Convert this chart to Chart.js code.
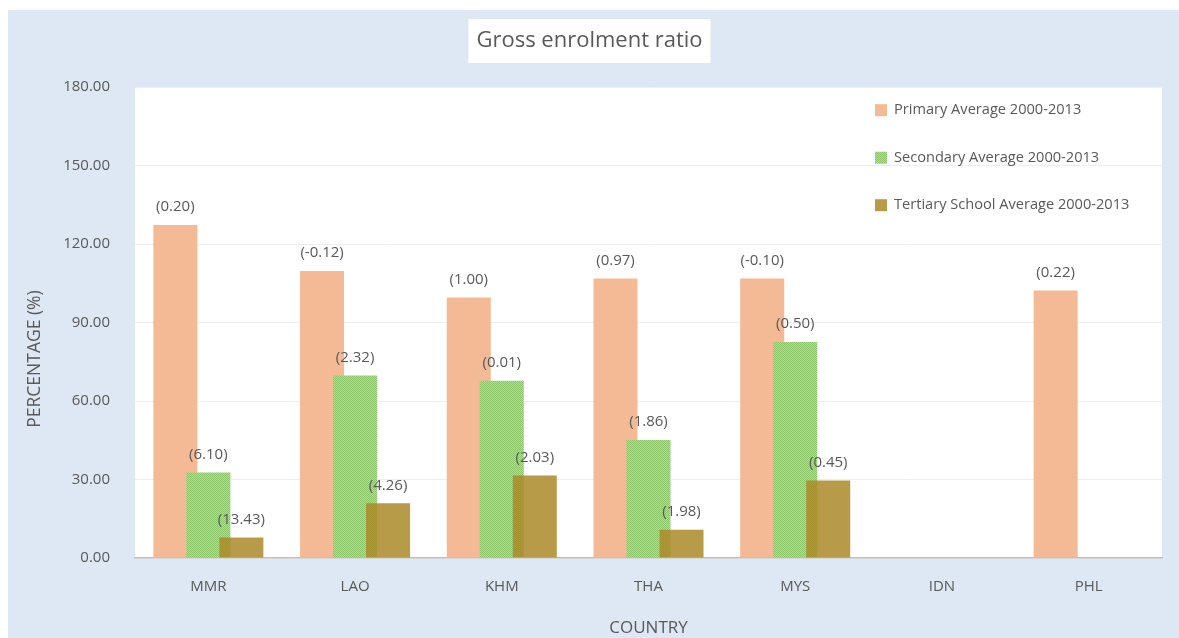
<!DOCTYPE html>
<html>
<head>
<meta charset="utf-8">
<script src="https://cdn.jsdelivr.net/npm/chart.js@4"></script>
<style>
  html, body { margin: 0; padding: 0; background: #ffffff; }
  canvas { display: block; }
</style>
</head>
<body>
<canvas id="enrolChart" width="1179" height="638"></canvas>
<script>
// donnees
var countries = ['MMR', 'LAO', 'KHM', 'THA', 'MYS', 'IDN', 'PHL'];
var primary = [127.3, 109.7, 99.6, 106.9, 106.9, null, 102.3];
var secondary = [32.7, 69.8, 67.8, 45.1, 82.6, null, null];
var tertiary = [7.8, 20.9, 31.5, 10.8, 29.6, null, null];
// taux de croissance affiches entre parentheses
var primaryGrowth = [0.20, -0.12, 1.00, 0.97, -0.10, null, 0.22];
var secondaryGrowth = [6.10, 2.32, 0.01, 1.86, 0.50, null, null];
var tertiaryGrowth = [13.43, 4.26, 2.03, 1.98, 0.45, null, null];
var yTicks = [0, 30, 60, 90, 120, 150, 180];

var textColor = '#595959';
var fontFamily = "'Open Sans', 'Noto Sans', sans-serif";

// motif quadrille pour la serie secondaire
function makePattern() {
    var c = document.createElement('canvas');
    c.width = 4; c.height = 4;
    var p = c.getContext('2d');
    p.fillStyle = '#b2dc98';
    p.fillRect(0, 0, 4, 4);
    p.fillStyle = '#8bc469';
    for (var i = 0; i < 4; i++) {
        for (var j = 0; j < 4; j++) {
            if ((i + j) % 2 === 0) p.fillRect(i, j, 1, 1);
        }
    }
    return p.createPattern(c, 'repeat');
}

var ctx = document.getElementById('enrolChart').getContext('2d');
var greenPattern = makePattern();

var backgroundPlugin = {
    id: 'backgroundPlugin',
    beforeDraw: function(chart) {
        var c = chart.ctx;
        var a = chart.chartArea;
        var t = chart.titleBlock;
        c.save();
        c.fillStyle = '#ffffff';
        c.fillRect(0, 0, chart.width, chart.height);
        c.fillStyle = '#dde8f4';
        c.fillRect(8, 10, chart.width - 8, chart.height - 10);
        c.fillStyle = '#ffffff';
        c.fillRect(a.left, a.top, a.right - a.left, a.bottom - a.top);
        // cadre blanc du titre
        c.font = '22px ' + fontFamily;
        var w = c.measureText(chart.options.plugins.title.text).width;
        var cx = (t.left + t.right) / 2;
        c.fillRect(cx - w / 2 - 8, 19, w + 16, 44);
        c.restore();
    }
};

// on dessine les series dans l'ordre : la barre de droite passe par-dessus
var orderPlugin = {
    id: 'orderPlugin',
    beforeDatasetsDraw: function(chart) {
        for (var i = 0; i < chart.data.datasets.length; i++) {
            var meta = chart.getDatasetMeta(i);
            if (meta.visible) meta.controller.draw();
        }
        return false;
    }
};

var labelsPlugin = {
    id: 'labelsPlugin',
    afterDraw: function(chart) {
        var growth = [primaryGrowth, secondaryGrowth, tertiaryGrowth];
        var c = chart.ctx;
        var a = chart.chartArea;
        c.save();
        c.font = '15px ' + fontFamily;
        c.fillStyle = textColor;
        c.textAlign = 'center';
        c.textBaseline = 'middle';
        chart.data.datasets.forEach(function(ds, i) {
            var meta = chart.getDatasetMeta(i);
            meta.data.forEach(function(bar, j) {
                var g = growth[i][j];
                if (g === null || ds.data[j] === null) return;
                c.fillText('(' + g.toFixed(2) + ')', bar.x, bar.y - 18);
            });
        });

        // legende dans la zone du graphique
        c.font = '14.6px ' + fontFamily;
        c.textAlign = 'left';
        chart.data.datasets.forEach(function(ds, i) {
            var y = a.top + 23 + i * 47.5;
            var x = a.right - 287;
            c.fillStyle = ds.legendColor;
            c.fillRect(x, y - 6, 12, 12);
            c.fillStyle = textColor;
            c.fillText(ds.label, x + 19, y);
        });

        // titre de l'axe vertical
        c.font = '17.5px ' + fontFamily;
        c.translate(35, 359);
        c.rotate(-Math.PI / 2);
        c.textAlign = 'center';
        c.fillText('PERCENTAGE (%)', 0, 0);
        c.restore();
    }
};

var enrolChart = new Chart(ctx, {
    type: 'bar',
    data: {
        labels: countries,
        datasets: [{
            label: 'Primary Average 2000-2013',
            data: primary,
            backgroundColor: '#f4ba95',
            legendColor: '#f4ba95'
        }, {
            label: 'Secondary Average 2000-2013',
            data: secondary,
            backgroundColor: greenPattern,
            legendColor: greenPattern
        }, {
            label: 'Tertiary School Average 2000-2013',
            data: tertiary,
            backgroundColor: 'rgba(170, 138, 40, 0.85)',
            legendColor: 'rgba(170, 138, 40, 0.85)'
        }]
    },
    options: {
        responsive: false,
        animation: false,
        categoryPercentage: 0.675,
        barPercentage: 1.333,
        layout: {
            padding: { left: 17, right: 17, top: 0, bottom: 0 }
        },
        plugins: {
            legend: { display: false },
            tooltip: { enabled: false },
            title: {
                display: true,
                text: 'Gross enrolment ratio',
                color: textColor,
                font: { size: 22, family: fontFamily, weight: 'normal', lineHeight: 1.2 },
                padding: { top: 27.8, bottom: 33 }
            }
        },
        scales: {
            y: {
                min: 0,
                max: 180,
                afterBuildTicks: function(scale) {
                    scale.ticks = yTicks.map(function(v) { return { value: v }; });
                },
                afterFit: function(scale) { scale.width = 118; },
                grid: { color: '#eeeeee', drawTicks: false },
                border: { display: false },
                ticks: {
                    padding: 25,
                    color: textColor,
                    font: { size: 15, family: fontFamily },
                    callback: function(v) { return Number(v).toFixed(2); }
                }
            },
            x: {
                afterFit: function(scale) { scale.height = 80; },
                grid: { display: false, drawTicks: false },
                border: { display: true, color: '#bfbfbf', width: 1.5 },
                ticks: {
                    padding: 20,
                    color: textColor,
                    font: { size: 15, family: fontFamily }
                },
                title: {
                    display: true,
                    text: 'COUNTRY',
                    color: textColor,
                    font: { size: 17, family: fontFamily },
                    padding: { top: 0, bottom: 0 }
                }
            }
        }
    },
    plugins: [backgroundPlugin, orderPlugin, labelsPlugin]
});
</script>
</body>
</html>
